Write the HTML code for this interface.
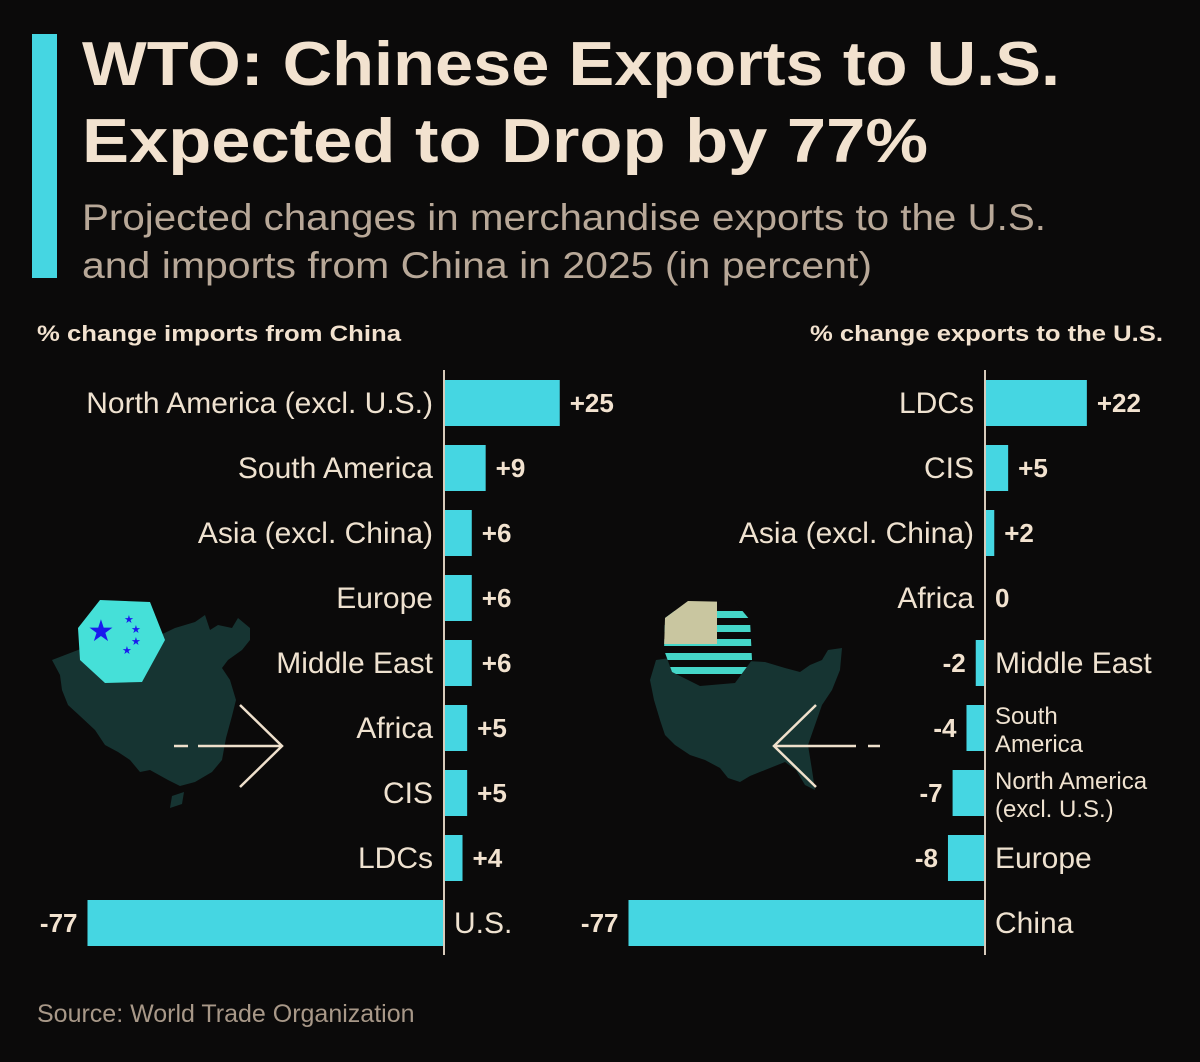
<!DOCTYPE html>
<html><head><meta charset="utf-8"><style>
html,body{margin:0;padding:0;background:#0b0a0a;}
svg{display:block;font-family:"Liberation Sans",sans-serif;}
</style></head><body>
<svg id="chart" width="1200" height="1062" viewBox="0 0 1200 1062">
<rect x="0" y="0" width="1200" height="1062" fill="#0b0a0a"/>
<rect x="32" y="34" width="25" height="244" fill="#45d6e2"/>
<text x="82" y="85" font-size="62" font-weight="bold" fill="#f2e2cf" textLength="978" lengthAdjust="spacingAndGlyphs">WTO: Chinese Exports to U.S.</text>
<text x="82" y="162" font-size="62" font-weight="bold" fill="#f2e2cf" textLength="846" lengthAdjust="spacingAndGlyphs">Expected to Drop by 77%</text>
<text x="82" y="230" font-size="37" fill="#b8a898" textLength="964" lengthAdjust="spacingAndGlyphs">Projected changes in merchandise exports to the U.S.</text>
<text x="82" y="278" font-size="37" fill="#b8a898" textLength="790" lengthAdjust="spacingAndGlyphs">and imports from China in 2025 (in percent)</text>
<text x="37" y="341" font-size="22" font-weight="bold" fill="#f2e2cf" textLength="364" lengthAdjust="spacingAndGlyphs">% change imports from China</text>
<text x="1163" y="341" font-size="22" font-weight="bold" fill="#f2e2cf" text-anchor="end" textLength="353" lengthAdjust="spacingAndGlyphs">% change exports to the U.S.</text>

<g>
<polygon fill="#163432" points="52,660 78,650 100,640 130,648 150,640 175,628 195,622 205,615 210,630 218,625 232,628 238,618 250,628 250,640 242,650 228,660 222,668 230,680 236,700 232,716 226,738 222,760 212,772 195,782 180,786 168,780 150,770 140,772 130,760 118,752 105,745 95,730 80,716 68,705 62,690 60,675"/>
<polygon fill="#163432" points="172,796 184,792 182,804 170,808"/>
<polygon fill="#45e0d8" points="100,600 150,602 165,640 142,682 105,683 80,660 78,628"/>
<text x="101" y="641" font-size="30" fill="#1a1aee" text-anchor="middle">★</text>
<text x="124" y="623" font-size="11" fill="#1a1aee">★</text>
<text x="131" y="633" font-size="11" fill="#1a1aee">★</text>
<text x="131" y="645" font-size="11" fill="#1a1aee">★</text>
<text x="122" y="654" font-size="11" fill="#1a1aee">★</text>
<path d="M174,746 L188,746 M198,746 L282,746 M240,705 L282,746 L240,787" stroke="#efe0cc" stroke-width="2.5" fill="none"/>
</g>

<g>
<polygon fill="#163432" points="656,660 690,655 730,660 765,662 785,668 800,672 810,665 822,660 828,650 842,648 840,670 832,690 822,705 815,725 808,745 812,770 815,790 805,785 796,770 785,762 765,770 750,776 740,782 728,778 720,768 705,760 690,755 675,745 665,735 660,720 654,700 650,680"/>
<clipPath id="flagclip"><polygon points="665,618 688,601 735,602 750,620 752,660 735,683 700,686 672,672 664,650"/></clipPath>
<g clip-path="url(#flagclip)">
<rect x="660" y="598" width="100" height="90" fill="#0b0a0a"/>
<rect x="660" y="611" width="100" height="7" fill="#45d6c8"/>
<rect x="660" y="625" width="100" height="7" fill="#45d6c8"/>
<rect x="660" y="639" width="100" height="7" fill="#45d6c8"/>
<rect x="660" y="653" width="100" height="7" fill="#45d6c8"/>
<rect x="660" y="667" width="100" height="7" fill="#45d6c8"/>
<rect x="660" y="598" width="57" height="46" fill="#c9c6a0"/>
</g>
<path d="M880,746 L868,746 M856,746 L774,746 M816,705 L774,746 L816,787" stroke="#efe0cc" stroke-width="2.5" fill="none"/>
</g>

<g id="left"></g>
<g id="right"></g>
<text x="37" y="1022" font-size="25" fill="#a89888">Source: World Trade Organization</text>
</svg>
<script>
const leftCategories = ["North America (excl. U.S.)","South America","Asia (excl. China)","Europe","Middle East","Africa","CIS","LDCs","U.S."];
const leftValues = [25,9,6,6,6,5,5,4,-77];
const rightCategories = [["LDCs"],["CIS"],["Asia (excl. China)"],["Africa"],["Middle East"],["South","America"],["North America","(excl. U.S.)"],["Europe"],["China"]];
const rightValues = [22,5,2,0,-2,-4,-7,-8,-77];

const NS = "http://www.w3.org/2000/svg";
const scaleK = 4.63;
const rowY = i => 403 + i * 65;
const barH = 46;
function mk(tag, attrs, parent){const e=document.createElementNS(NS,tag);for(const k in attrs)e.setAttribute(k,attrs[k]);parent.appendChild(e);return e;}
function fmt(v){return v>0?"+"+v:String(v);}

function drawChart(groupId, axisX, cats, vals){
  const g = document.getElementById(groupId);
  const x = v => axisX + v * scaleK;
  vals.forEach((v,i)=>{
    const cy = rowY(i);
    const x0 = Math.min(x(0), x(v)), w = Math.abs(x(v)-x(0));
    const bar = mk("rect",{x:x0,y:cy-barH/2,width:w,height:barH,fill:"#45d6e2"},g);
    
    
    const vl = mk("text",{x: v>=0 ? x(v)+10 : x(v)-10, y:cy+9, "font-size":26, "font-weight":"bold", fill:"#f2e2cf", "text-anchor": v>=0?"start":"end"},g);
    vl.textContent = fmt(v);
    
    
    const lines = Array.isArray(cats[i]) ? cats[i] : [cats[i]];
    const pos = v>=0;
    const lx = pos ? axisX - 11 : axisX + 10;
    const cl = mk("text",{x:lx, "font-size": lines.length>1?24:30, fill:"#efe2d0", "text-anchor": pos?"end":"start"},g);
    
    
    if(lines.length===1){cl.setAttribute("y",cy+10);cl.textContent=lines[0];}
    else{lines.forEach((t,j)=>{const ts=mk("tspan",{x:lx,y:cy-4+j*28},cl);ts.textContent=t;});}
  });
  const ax = mk("line",{x1:axisX,x2:axisX,y1:370,y2:955,stroke:"#d8cbbb","stroke-width":2},g);
  
  
}
drawChart("left", 444, leftCategories, leftValues);
drawChart("right", 985, rightCategories, rightValues);
</script>
</body></html>
